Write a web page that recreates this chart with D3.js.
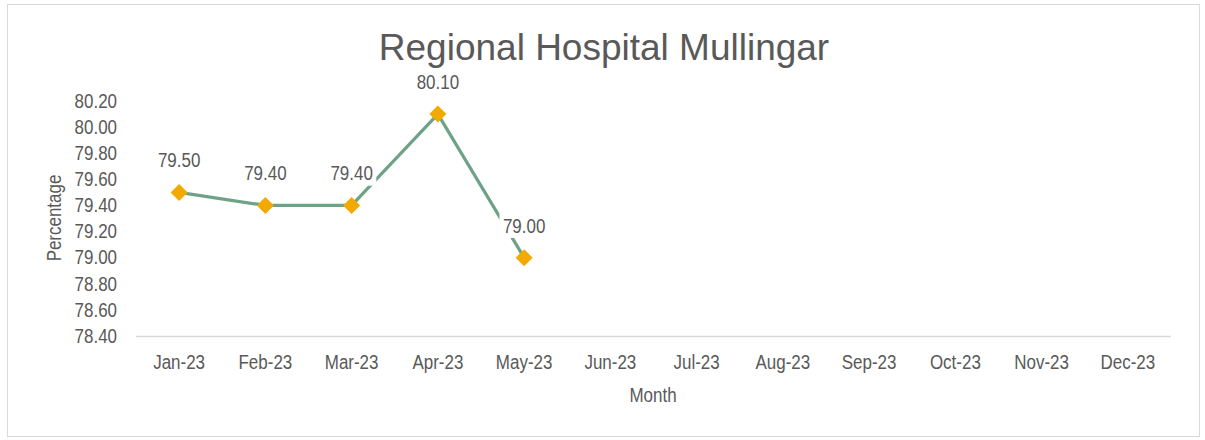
<!DOCTYPE html>
<html>
<head>
<meta charset="utf-8">
<script src="https://cdn.jsdelivr.net/npm/d3@7"></script>
<style>
  html, body { margin: 0; padding: 0; background: #fff; }
  svg { display: block; }
  text { font-family: "Liberation Sans", Arial, sans-serif; fill: #595959; }
</style>
</head>
<body>
<script>
const months = ["Jan-23","Feb-23","Mar-23","Apr-23","May-23","Jun-23","Jul-23","Aug-23","Sep-23","Oct-23","Nov-23","Dec-23"];
const values = [79.5, 79.4, 79.4, 80.1, 79.0];
const yTicks = [78.4, 78.6, 78.8, 79.0, 79.2, 79.4, 79.6, 79.8, 80.0, 80.2];
const title = "Regional Hospital Mullingar";
const xTitle = "Month";
const yTitle = "Percentage";

const W = 1205, H = 440;
const FS = 19.5;   // emulate a narrow font: larger size, condensed horizontally
const SX = 0.87;
const svg = d3.select("body").append("svg").attr("width", W).attr("height", H);

// outer border
svg.append("rect").attr("x", 7.5).attr("y", 4.5).attr("width", 1192).attr("height", 432)
  .attr("fill", "#fff").attr("stroke", "#d9d9d9").attr("stroke-width", 1);

const x = d3.scaleBand().domain(months).range([136, 1171]);
const y = d3.scaleLinear().domain([78.4, 80.2]).range([336, 101]);

// x axis line
svg.append("line").attr("x1", 136).attr("x2", 1171).attr("y1", 336.5).attr("y2", 336.5)
  .attr("stroke", "#d9d9d9").attr("stroke-width", 1.3);

// x tick labels
const xAxis = d3.axisBottom(x).tickSize(0).tickPadding(0);
const gx = svg.append("g").attr("transform", "translate(0,362)").call(xAxis);
gx.select(".domain").remove();
gx.selectAll("text").attr("font-size", FS).attr("fill", "#595959")
  .attr("font-family", "Liberation Sans, Arial, sans-serif")
  .attr("y", 0).attr("dy", "0.35em").attr("transform", `scale(${SX},1)`);

// y tick labels
const yAxis = d3.axisLeft(y).tickValues(yTicks).tickFormat(d3.format(".2f")).tickSize(0).tickPadding(0);
const gy = svg.append("g").attr("transform", "translate(117,0)").call(yAxis);
gy.select(".domain").remove();
gy.selectAll("text").attr("font-size", FS).attr("fill", "#595959")
  .attr("font-family", "Liberation Sans, Arial, sans-serif")
  .attr("x", 0).attr("transform", `scale(${SX},1)`);

// titles
svg.append("text").attr("x", 604).attr("y", 60).attr("text-anchor", "middle")
  .attr("font-size", 37).text(title);
svg.append("text").attr("transform", `translate(653,402) scale(${SX},1)`).attr("text-anchor", "middle")
  .attr("font-size", FS).text(xTitle);
svg.append("text").attr("transform", `translate(61,218) rotate(-90) scale(${SX},1)`).attr("text-anchor", "middle")
  .attr("font-size", FS).text(yTitle);

const pts = values.map((v, i) => ({ m: months[i], v }));
const cx = d => x(d.m) + x.bandwidth() / 2;

// line
svg.append("path").datum(pts)
  .attr("d", d3.line().x(cx).y(d => y(d.v)))
  .attr("fill", "none").attr("stroke", "#6ea286").attr("stroke-width", 3.2)
  .attr("stroke-linejoin", "round");

// label backgrounds + labels
pts.forEach(d => {
  const g = svg.append("g").attr("transform", `translate(${cx(d)},${y(d.v) - 25}) scale(${SX},1)`);
  const t = g.append("text").attr("x", 0).attr("y", 0)
    .attr("text-anchor", "middle").attr("font-size", FS).text(d3.format(".2f")(d.v));
  const bb = t.node().getBBox();
  g.insert("rect", "text").attr("x", bb.x - 4).attr("y", bb.y - 1)
    .attr("width", bb.width + 8).attr("height", bb.height + 2).attr("fill", "#fff");
});

// markers
svg.selectAll(".mk").data(pts).enter().append("path")
  .attr("transform", d => `translate(${cx(d)},${y(d.v)})`)
  .attr("d", "M0,-8.5 L8.5,0 L0,8.5 L-8.5,0 Z")
  .attr("fill", "#f2a900");
</script>
</body>
</html>
